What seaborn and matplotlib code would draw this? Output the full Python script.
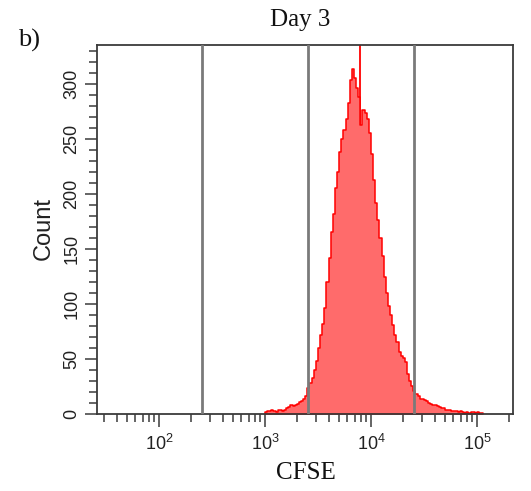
import numpy as np
import pandas as pd
import seaborn as sns
import matplotlib
matplotlib.use("Agg")
import matplotlib.pyplot as plt
from matplotlib.ticker import LogLocator, MultipleLocator, LogFormatterSciNotation, NullFormatter

# ---------------- data ----------------
bin_start_log = 3.0      # log10 of the first bin's left edge
bin_width_log = 0.02     # bin width in decades
counts = [2, 3, 3, 4, 3, 2, 4, 4, 3, 4,
          5, 6, 8, 7, 8, 9, 11, 12, 14, 16,
          24, 28, 33, 40, 48, 60, 72, 82, 96, 120,
          142, 165, 182, 205, 220, 238, 250, 258, 268, 282,
          303, 313, 305, 296, 288, 262, 276, 273, 268, 255,
          236, 212, 192, 176, 160, 143, 124, 110, 98, 90,
          81, 72, 65, 56, 53, 51, 47, 36, 30, 25,
          21, 18, 16, 14, 14, 13, 12, 10, 9, 8,
          8, 7, 6, 5, 5, 4, 4, 4, 3, 3,
          3, 2, 3, 2, 1, 2, 1, 2, 2, 1,
          2, 1, 1]
gate_positions = [256, 2560, 25600]
median_marker = 7800
x_limits = (26, 2.19e5)
y_limits = (0, 335)
title = "Day 3"
panel_label = "b)"
x_label = "CFSE"
y_label = "Count"

n_bins = len(counts)
centers = 10 ** (bin_start_log + bin_width_log * (np.arange(n_bins) + 0.5))
df = pd.DataFrame({"CFSE": centers, "Count": counts})

# ---------------- style ----------------
sns.set_theme(style="ticks")
plt.rcParams["font.family"] = ["Liberation Sans", "DejaVu Sans"]
plt.rcParams["mathtext.fontset"] = "custom"
plt.rcParams["mathtext.rm"] = "Liberation Sans"
plt.rcParams["mathtext.it"] = "Liberation Sans"
plt.rcParams["mathtext.default"] = "regular"

W, H = 531, 491
fig = plt.figure(figsize=(W / 100, H / 100), dpi=100)
ax = fig.add_axes([97 / W, 1 - 414 / H, (513 - 97) / W, (414 - 45) / H])

ax.axvline(median_marker, color="#ff0000", lw=1.3, zorder=0.5)

sns.histplot(data=df, x="CFSE", weights="Count", log_scale=True,
             binwidth=bin_width_log,
             binrange=(bin_start_log, bin_start_log + bin_width_log * n_bins),
             element="step", fill=True, facecolor="#ff6b6b", edgecolor="#ff0000",
             linewidth=1.1, ax=ax, zorder=1)

for g in gate_positions:
    ax.axvline(g, color="#7a7a7a", lw=2.0, zorder=3)

ax.set_xlim(*x_limits)
ax.set_ylim(*y_limits)

ax.xaxis.set_major_locator(LogLocator(base=10))
ax.xaxis.set_minor_locator(LogLocator(base=10, subs=np.arange(2, 10)))
ax.xaxis.set_major_formatter(LogFormatterSciNotation())
ax.xaxis.set_minor_formatter(NullFormatter())
ax.yaxis.set_major_locator(MultipleLocator(50))
ax.yaxis.set_minor_locator(MultipleLocator(10))

for s in ax.spines.values():
    s.set_visible(True)
    s.set_color("#3a3a3a")
    s.set_linewidth(1.3)

ax.tick_params(axis="both", which="major", direction="out", length=9, width=1.1,
               color="#3a3a3a", labelcolor="#222222")
ax.tick_params(axis="x", which="major", labelsize=13, pad=5)
ax.tick_params(axis="y", which="major", labelsize=13, pad=3)
ax.tick_params(axis="both", which="minor", direction="out", length=5.5, width=1.1,
               color="#3a3a3a")
for lab in ax.get_yticklabels():
    lab.set_rotation(90)
    lab.set_va("center")

ax.set_xlabel("")
ax.set_ylabel("")

fig.text(300 / W, 1 - 20 / H, title, ha="center", va="center",
         fontsize=18, family=["Liberation Serif", "DejaVu Serif"], color="#111111")
fig.text(18 / W, 1 - 40 / H, panel_label, ha="left", va="center",
         fontsize=19, family=["Liberation Serif", "DejaVu Serif"], color="#111111")
fig.text(306 / W, 1 - 473 / H, x_label, ha="center", va="center",
         fontsize=18, family=["Liberation Serif", "DejaVu Serif"], color="#111111")
fig.text(44 / W, 1 - 228 / H, y_label, ha="center", va="center", rotation=90,
         fontsize=17, color="#222222")

fig.savefig("out.png", dpi=100)
